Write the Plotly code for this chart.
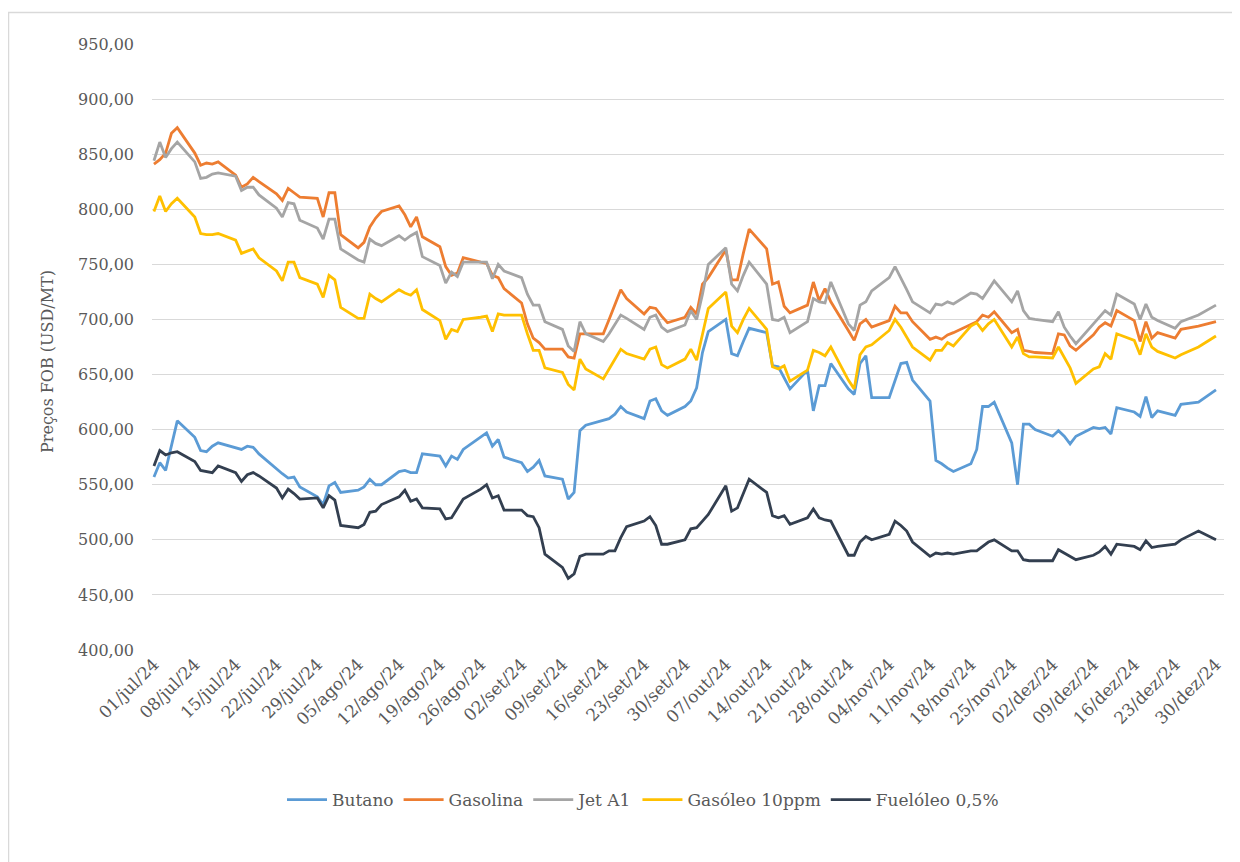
import pandas as pd
import plotly.graph_objects as go

# ---- categories (business days, Jul 1 - Dec 30 2024, no data on Dec 25/26) ----
DATES = pd.bdate_range("2024-07-01", "2024-12-30", freq="C",
                       holidays=["2024-12-25", "2024-12-26"])

TICK_LABELS = ["01/jul/24", "08/jul/24", "15/jul/24", "22/jul/24", "29/jul/24",
               "05/ago/24", "12/ago/24", "19/ago/24", "26/ago/24", "02/set/24",
               "09/set/24", "16/set/24", "23/set/24", "30/set/24", "07/out/24",
               "14/out/24", "21/out/24", "28/out/24", "04/nov/24", "11/nov/24",
               "18/nov/24", "25/nov/24", "02/dez/24", "09/dez/24", "16/dez/24",
               "23/dez/24", "30/dez/24"]

# ---- series values (USD/MT) ----
butano = [
    557, 570, 563, 586, 608, 593, 581, 580, 585, 588, 584, 582, 585, 584, 578,
    564, 560, 556, 557, 548, 539, 532, 549,
    552, 543, 545, 548, 555, 550, 550, 562, 563, 561, 561, 578, 576, 567, 576,
    573, 582, 593, 597, 585, 591, 575,
    570, 562, 566, 572, 558, 555, 537, 543, 599, 604, 608, 610, 614, 621, 616,
    610, 626, 628, 617, 613, 621,
    626, 638, 670, 689, 700, 669, 667, 680, 692, 688, 658, 657, 647, 637, 654,
    617, 640, 640, 660, 637, 632, 660, 667,
    629, 629, 645, 660, 661, 645, 626, 572, 569, 565, 562, 569, 582, 621, 621,
    625, 588, 550, 605, 605, 600,
    594, 599, 594, 587, 594, 602, 601, 602, 596, 620, 616, 612, 630, 611, 617,
    613, 623, 625, 636]

gasolina = [
    841, 845, 851, 869, 874, 851, 840, 842, 841, 843, 831, 820, 823, 829, 825,
    814, 808, 819, 815, 811, 810, 793, 815,
    815, 777, 765, 770, 784, 792, 798, 803, 795, 784, 793, 775, 766, 748, 740,
    742, 756, 752, 751, 740, 738, 728,
    715, 696, 683, 679, 673, 673, 666, 665, 687, 687, 687, 700, 713, 727, 719,
    705, 711, 710, 703, 697, 702,
    711, 705, 732, 738, 763, 736, 736, 760, 782, 764, 732, 734, 712, 706, 713,
    734, 717, 728, 716, 690, 681, 696, 700,
    693, 699, 712, 706, 706, 698, 682, 684, 682, 686, 688, 695, 698, 704, 702,
    707, 688, 691, 672, 671, 670,
    669, 687, 686, 676, 672, 686, 693, 697, 694, 708, 699, 680, 698, 683, 688,
    683, 691, 694, 698]

jet_a1 = [
    844, 861, 847, 855, 861, 843, 828, 829, 832, 833, 830, 817, 820, 820, 813,
    801, 793, 806, 805, 790, 783, 773, 791,
    791, 764, 754, 752, 773, 769, 767, 776, 772, 776, 779, 757, 749, 733, 743,
    739, 752, 752, 752, 737, 750, 744,
    738, 723, 713, 713, 698, 691, 676, 671, 698, 687, 680, 687, 695, 704, 701,
    691, 702, 704, 693, 689, 695,
    708, 700, 723, 750, 765, 732, 726, 740, 752, 732, 700, 699, 702, 688, 698,
    719, 716, 715, 734, 696, 690, 713, 716,
    726, 738, 748, 738, 727, 716, 706, 714, 713, 716, 714, 724, 723, 719, 727,
    735, 716, 726, 708, 701, 700,
    698, 707, 693, 685, 678, 696, 702, 708, 704, 723, 714, 700, 714, 702, 699,
    692, 698, 704, 713]

gasoleo = [
    798, 812, 798, 805, 810, 793, 778, 777, 777, 778, 772, 760, 762, 764, 756,
    744, 735, 752, 752, 738, 732, 720, 740,
    736, 711, 701, 701, 723, 719, 716, 727, 724, 722, 727, 709, 699, 682, 691,
    689, 700, 702, 703, 689, 705, 704,
    704, 687, 672, 672, 656, 652, 641, 636, 664, 655, 646, 655, 664, 673, 669,
    664, 673, 675, 659, 656, 664,
    673, 663, 687, 710, 725, 694, 688, 700, 710, 691, 657, 655, 658, 644, 654,
    672, 670, 667, 675, 645, 637, 668, 675,
    677, 690, 700, 693, 684, 675, 663, 672, 672, 679, 676, 694, 697, 690, 696,
    700, 675, 684, 669, 666, 666,
    665, 675, 665, 656, 642, 655, 657, 669, 664, 687, 681, 668, 687, 675, 671,
    665, 668, 675, 685]

fueloleo = [
    567, 581, 577, 579, 580, 571, 563, 562, 561, 567, 561, 553, 559, 561, 558,
    547, 538, 546, 542, 537, 538, 529, 540,
    536, 513, 511, 514, 525, 526, 532, 539, 545, 535, 537, 529, 528, 519, 520,
    528, 537, 546, 550, 538, 540, 527,
    527, 522, 521, 511, 487, 475, 465, 469, 485, 487, 487, 490, 490, 502, 512,
    517, 521, 513, 496, 496, 500,
    510, 511, 517, 523, 549, 526, 529, 542, 555, 543, 522, 520, 522, 514, 520,
    528, 520, 518, 517, 486, 486, 498, 503,
    500, 505, 517, 513, 508, 498, 485, 488, 487, 488, 487, 490, 490, 494, 498,
    500, 490, 490, 482, 481, 481,
    481, 491, 488, 485, 482, 486, 489, 494, 487, 496, 494, 491, 499, 493, 494,
    496, 500, 508, 500]

SERIES = [
    ("Butano", butano, "#5B9BD5"),
    ("Gasolina", gasolina, "#ED7D31"),
    ("Jet A1", jet_a1, "#A5A5A5"),
    ("Gasóleo 10ppm", gasoleo, "#FFC000"),
    ("Fuelóleo 0,5%", fueloleo, "#333F50"),
]

FONT = "DejaVu Serif"
GREY = "#595959"

fig = go.Figure()
for name, vals, col in SERIES:
    assert len(vals) == len(DATES), (name, len(vals))
    fig.add_trace(go.Scatter(x=DATES, y=vals, mode="lines", name=name,
                             line=dict(color=col, width=2.8)))

tick_vals = pd.date_range("2024-07-01", "2024-12-30", freq="7D")

# page body has an 8px margin, so the figure is sized/offset accordingly
W, H = 1232, 854
L, R, T, B = 144, 16, 36, 212
pw = W - L - R
ph = H - T - B

def px_x(x):
    return (x - 8 - L) / pw

def px_y(y):
    return (T + ph - (y - 8)) / ph

x0 = pd.Timestamp("2024-07-01") - pd.Timedelta(hours=8)
x1 = pd.Timestamp("2024-12-30") + pd.Timedelta(hours=33)

fig.update_layout(
    width=W, height=H,
    margin=dict(l=L, r=R, t=T, b=B),
    paper_bgcolor="white", plot_bgcolor="white",
    separators=",.",
    font=dict(family=FONT, color=GREY, size=16),
    showlegend=True,
    legend=dict(orientation="h", x=px_x(643), xanchor="center",
                y=px_y(800), yanchor="middle",
                font=dict(family=FONT, size=17, color=GREY),
                itemwidth=40, tracegroupgap=0),
    xaxis=dict(range=[x0, x1], tickvals=tick_vals, ticktext=TICK_LABELS,
               tickangle=-45, showgrid=False, zeroline=False, showline=False,
               ticks="", tickfont=dict(family=FONT, size=17, color=GREY)),
    yaxis=dict(range=[400, 950], dtick=50, tickformat=".2f",
               showgrid=True, gridcolor="#D9D9D9", gridwidth=1,
               zeroline=False, showline=False, ticks="",
               ticklabelstandoff=17,
               tickfont=dict(family=FONT, size=16, color=GREY)),
    hovermode="x unified",
)

fig.add_annotation(text="Preços FOB (USD/MT)", xref="paper", yref="paper",
                   x=px_x(47), y=px_y(362), textangle=-90, showarrow=False,
                   xanchor="center", yanchor="middle",
                   font=dict(family=FONT, size=16, color=GREY))

# chart-area border (right and bottom edges lie outside the view)
fig.add_shape(type="rect", xref="paper", yref="paper",
              x0=px_x(8.5), x1=px_x(1300),
              y0=px_y(900), y1=px_y(12.5),
              line=dict(color="#D9D9D9", width=1.5), fillcolor="rgba(0,0,0,0)",
              layer="below")

fig.write_html("out.html")
